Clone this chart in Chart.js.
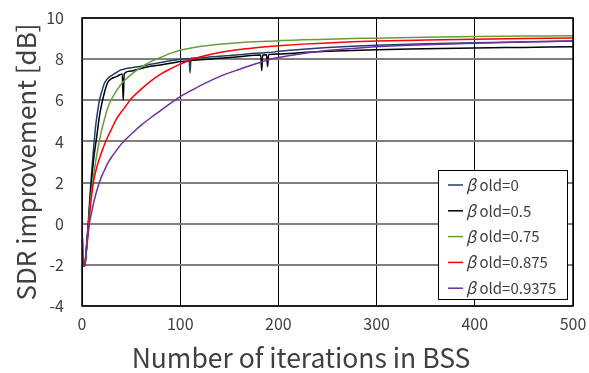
<!DOCTYPE html>
<html>
<head>
<meta charset="utf-8">
<script src="https://cdn.jsdelivr.net/npm/chart.js@4"></script>
<style>
  html, body { margin: 0; padding: 0; background: #fff; }
  #wrap { width: 589px; height: 373px; }
</style>
</head>
<body>
<div id="wrap"><canvas id="sdrChart" width="589" height="373"></canvas></div>
<script>
// iteration numbers (shared by all series)
const iters = [0, 1, 2, 3, 4, 5, 6, 7, 8, 10, 12, 14, 16, 18, 20, 23, 26, 30, 35, 41, 42, 43, 50, 60, 70, 80, 90, 100,
    109, 110, 111, 120, 140, 160, 182, 183, 184, 188, 189, 190, 200, 225, 250, 275, 300, 350, 400, 450, 500];

// SDR improvement [dB] per series
const beta0 = [0, -1.9, -2.07, -2.0, -1.4, -0.8, -0.2, 0.5, 1.3, 2.6, 3.8, 4.8, 5.5, 6.05, 6.4, 6.85, 7.05, 7.2, 7.35, 7.5, 7.5, 7.52, 7.58, 7.66, 7.75, 7.84, 7.92, 8.0,
    8.03, 7.33, 8.04, 8.07, 8.14, 8.21, 8.3, 8.3, 8.3, 8.32, 8.32, 8.32, 8.38, 8.48, 8.56, 8.63, 8.68, 8.75, 8.8, 8.84, 8.88];
const beta05 = [0, -1.9, -2.07, -2.0, -1.5, -0.9, -0.3, 0.3, 1.0, 2.2, 3.2, 3.9, 4.6, 5.3, 5.8, 6.4, 6.85, 7.05, 7.15, 7.28, 6.0, 7.3, 7.42, 7.55, 7.65, 7.72, 7.8, 7.88,
    7.92, 7.93, 7.93, 7.97, 8.04, 8.12, 8.2, 7.44, 8.2, 8.21, 7.64, 8.22, 8.25, 8.32, 8.38, 8.42, 8.46, 8.5, 8.54, 8.57, 8.6];
const beta075 = [0, -1.9, -2.07, -2.0, -1.5, -1.0, -0.4, 0.15, 0.8, 1.7, 2.4, 3.05, 3.6, 4.1, 4.55, 5.1, 5.6, 6.05, 6.45, 6.85, 6.9, 6.95, 7.25, 7.6, 7.88, 8.08, 8.28, 8.43,
    8.52, 8.53, 8.54, 8.61, 8.72, 8.8, 8.86, 8.86, 8.86, 8.87, 8.87, 8.87, 8.9, 8.94, 8.97, 9.0, 9.02, 9.07, 9.1, 9.12, 9.14];
const beta0875 = [0, -1.9, -2.07, -2.0, -1.5, -1.0, -0.5, 0.0, 0.6, 1.45, 2.12, 2.55, 2.9, 3.2, 3.48, 3.86, 4.2, 4.6, 5.08, 5.5, 5.56, 5.62, 6.07, 6.53, 6.93, 7.27, 7.53, 7.76,
    7.93, 7.95, 7.97, 8.1, 8.32, 8.47, 8.58, 8.585, 8.59, 8.6, 8.6, 8.61, 8.65, 8.73, 8.79, 8.84, 8.88, 8.93, 8.97, 9.0, 9.03];
const beta09375 = [0, -1.9, -2.07, -2.0, -1.6, -1.1, -0.6, -0.2, 0.15, 0.6, 1.05, 1.42, 1.75, 2.05, 2.3, 2.62, 2.92, 3.23, 3.56, 3.93, 3.98, 4.03, 4.35, 4.78, 5.15, 5.5, 5.85, 6.18,
    6.42, 6.45, 6.47, 6.7, 7.15, 7.5, 7.85, 7.86, 7.88, 7.94, 7.95, 7.97, 8.08, 8.28, 8.42, 8.52, 8.6, 8.7, 8.77, 8.83, 8.88];

const seriesNames = ['0', '0.5', '0.75', '0.875', '0.9375'];
const seriesColors = ['#223d6e', '#000000', '#6a9c3f', '#ff0000', '#7030a0'];
const seriesValues = [beta0, beta05, beta075, beta0875, beta09375];

const FONT = "'Noto Sans CJK JP', 'Noto Sans', sans-serif";
const TEXT = '#404040';

// legend box inside the plot + x-axis title, drawn by hand
const boxLegend = {
    id: 'boxLegend',
    afterDraw(chart) {
        const ctx = chart.ctx;
        const x0 = 438, y0 = 170, w = 129, h = 129;
        ctx.save();
        ctx.fillStyle = '#fff';
        ctx.fillRect(x0, y0, w, h);
        ctx.strokeStyle = '#000';
        ctx.lineWidth = 1;
        ctx.strokeRect(x0 + 0.5, y0 + 0.5, w, h);
        ctx.textBaseline = 'middle';
        chart.data.datasets.forEach((ds, i) => {
            const y = y0 + 15 + i * 25.8;
            ctx.strokeStyle = ds.borderColor;
            ctx.lineWidth = 1.5;
            ctx.beginPath();
            ctx.moveTo(x0 + 10, y);
            ctx.lineTo(x0 + 25, y);
            ctx.stroke();
            ctx.fillStyle = TEXT;
            ctx.font = "italic 16px " + FONT;
            ctx.fillText('β', x0 + 28, y);
            const bw = ctx.measureText('β').width;
            ctx.font = "15px " + FONT;
            ctx.fillText(' old=' + seriesNames[i], x0 + 28 + bw, y);
        });
        // x title sits a bit left of the plot centre in the original
        ctx.font = "26.5px " + FONT;
        ctx.textAlign = 'center';
        ctx.fillStyle = TEXT;
        ctx.fillText('Number of iterations in BSS', 301, 358);
        ctx.restore();
    }
};

// black frame round the plot area
const plotFrame = {
    id: 'plotFrame',
    afterDatasetsDraw(chart) {
        const a = chart.chartArea;
        const ctx = chart.ctx;
        ctx.save();
        ctx.strokeStyle = '#000';
        ctx.lineWidth = 1.5;
        ctx.strokeRect(a.left, a.top, a.right - a.left, a.bottom - a.top);
        ctx.restore();
    }
};

new Chart(document.getElementById('sdrChart').getContext('2d'), {
    type: 'line',
    data: {
        datasets: seriesValues.map((vals, i) => ({
            label: 'β old=' + seriesNames[i],
            data: iters.map((it, k) => ({ x: it, y: vals[k] })),
            borderColor: seriesColors[i],
            backgroundColor: seriesColors[i],
            borderWidth: 1.5,
            pointRadius: 0,
            tension: 0,
            cubicInterpolationMode: 'monotone',
            order: 4 - i
        }))
    },
    options: {
        responsive: false,
        animation: false,
        layout: { padding: { left: 0, right: 16, top: 18, bottom: 0 } },
        plugins: { legend: { display: false }, tooltip: { enabled: false } },
        scales: {
            x: {
                type: 'linear',
                min: 0, max: 500,
                afterFit(s) { s.height = 67; s.paddingLeft = 0; s.paddingRight = 0; },
                ticks: { stepSize: 100, color: TEXT, font: { family: FONT, size: 16 }, padding: 8, maxRotation: 0 },
                grid: { color: '#000', lineWidth: 1, drawTicks: false },
                border: { display: false },
                title: { display: false }
            },
            y: {
                min: -4, max: 10,
                afterFit(s) { s.width = 82; s.paddingTop = 0; s.paddingBottom = 0; },
                ticks: { stepSize: 2, color: TEXT, font: { family: FONT, size: 16 }, padding: 18 },
                grid: { color: '#808080', lineWidth: 2, drawTicks: false },
                border: { display: false },
                title: { display: true, text: 'SDR improvement [dB]', color: TEXT, font: { family: FONT, size: 26 }, padding: { top: 11, bottom: 0 } }
            }
        }
    },
    plugins: [plotFrame, boxLegend]
});
</script>
</body>
</html>
